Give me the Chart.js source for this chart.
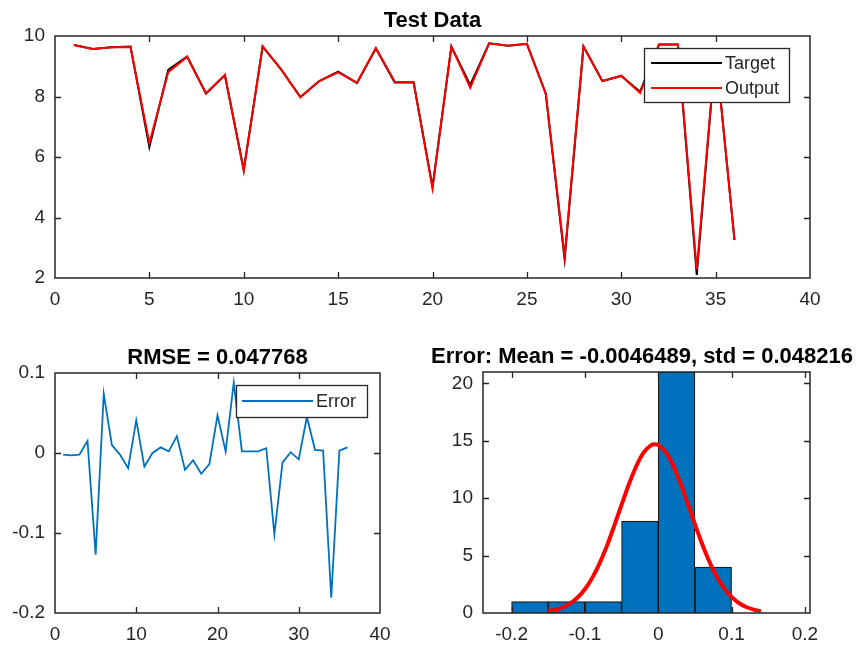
<!DOCTYPE html>
<html>
<head>
<meta charset="utf-8">
<script src="https://cdn.jsdelivr.net/npm/chart.js@4.4.0/dist/chart.umd.min.js"></script>
<style>
  html, body { margin: 0; padding: 0; background: #ffffff; width: 860px; height: 648px; overflow: hidden; }
  canvas { position: absolute; left: 0; top: 0; }
</style>
</head>
<body>
<canvas id="cTest" width="860" height="648" style="width:860px;height:648px"></canvas>
<canvas id="cErr" width="860" height="648" style="width:860px;height:648px"></canvas>
<canvas id="cHist" width="860" height="648" style="width:860px;height:648px"></canvas>
<script>
// ---------------- data ----------------
const sampleIdx = [1,2,3,4,5,6,7,8,9,10,11,12,13,14,15,16,17,18,19,20,21,22,23,24,25,26,27,28,29,30,31,32,33,34,35,36];
const targetVals = [9.70,9.57,9.63,9.65,6.33,8.88,9.32,8.10,8.70,5.58,9.65,8.88,7.98,8.51,8.82,8.44,9.59,8.46,8.46,5.01,9.65,8.38,9.76,9.68,9.74,8.10,2.62,9.65,8.51,8.68,8.16,9.72,9.72,2.10,9.55,3.26];
const outputVals = [9.702,9.573,9.632,9.635,6.457,8.806,9.310,8.102,8.719,5.539,9.667,8.880,7.973,8.508,8.799,8.461,9.599,8.486,8.474,4.963,9.648,8.292,9.758,9.678,9.738,8.094,2.722,9.662,8.509,8.688,8.115,9.716,9.717,2.281,9.547,3.253];
const errorVals = [-0.002,-0.003,-0.002,0.015,-0.127,0.074,0.010,-0.002,-0.019,0.041,-0.017,0.000,0.007,0.002,0.021,-0.021,-0.009,-0.026,-0.014,0.047,0.002,0.088,0.002,0.002,0.002,0.006,-0.102,-0.012,0.001,-0.008,0.045,0.004,0.003,-0.181,0.003,0.007];
const histCenters = [-0.175,-0.125,-0.075,-0.025,0.025,0.075];
const histCounts = [1,1,1,8,21,4];
const fitX = [-0.15,-0.14,-0.13,-0.12,-0.11,-0.10,-0.09,-0.08,-0.07,-0.06,-0.05,-0.04,-0.03,-0.02,-0.01,-0.005,0.00,0.01,0.02,0.03,0.04,0.05,0.06,0.07,0.08,0.09,0.10,0.11,0.12,0.13,0.14];
const fitY = [0.16,0.28,0.50,0.84,1.35,2.07,3.06,4.33,5.85,7.60,9.43,11.22,12.79,13.97,14.61,14.70,14.63,14.04,12.91,11.36,9.58,7.74,5.99,4.44,3.15,2.14,1.40,0.87,0.52,0.30,0.16];
const titleTest = 'Test Data';
const titleErr = 'RMSE = 0.047768';
const titleHist = 'Error: Mean = -0.0046489, std = 0.048216';
const labelTarget = 'Target';
const labelOutput = 'Output';
const labelError = 'Error';

// ---------------- styling helpers ----------------
Chart.defaults.font.family = '"Liberation Sans", Arial, Helvetica, sans-serif';
Chart.defaults.color = '#262626';
const AXIS_COLOR = '#262626';
const TICK_FONT = { size: 19 };
const TITLE_FONT = { size: 22, weight: 'bold', lineHeight: '25px' };

// MATLAB-like box with inward tick marks on all four sides
const boxTicks = {
  id: 'boxTicks',
  beforeDraw(chart, args, o) {
    // let a title be wider than the axes (MATLAB titles may overhang)
    const t = chart.titleBlock;
    if (t && o && o.titleSpan) {
      t.left = o.titleSpan[0];
      t.right = o.titleSpan[1];
      t.width = t.right - t.left;
    }
  },
  afterDatasetsDraw(chart) {
    const { ctx, chartArea: a, scales } = chart;
    const xs = scales.x, ys = scales.y;
    const L = 6;
    ctx.save();
    ctx.strokeStyle = AXIS_COLOR;
    ctx.lineWidth = 1.3;
    ctx.beginPath();
    xs.ticks.forEach(t => {
      const p = Math.round(xs.getPixelForValue(t.value)) + 0.5;
      if (p <= a.left + 1 || p >= a.right - 1) return;
      ctx.moveTo(p, a.bottom); ctx.lineTo(p, a.bottom - L);
      ctx.moveTo(p, a.top); ctx.lineTo(p, a.top + L);
    });
    ys.ticks.forEach(t => {
      const p = Math.round(ys.getPixelForValue(t.value)) + 0.5;
      if (p <= a.top + 1 || p >= a.bottom - 1) return;
      ctx.moveTo(a.left, p); ctx.lineTo(a.left + L, p);
      ctx.moveTo(a.right, p); ctx.lineTo(a.right - L, p);
    });
    ctx.stroke();
    ctx.lineWidth = 1.5;
    ctx.strokeRect(a.left, a.top, a.right - a.left, a.bottom - a.top);
    ctx.restore();
  }
};

// Boxed legend drawn inside the axes (white background, black border)
const boxLegend = {
  id: 'boxLegend',
  afterDraw(chart, args, o) {
    if (!o || !o.box) return;
    const { ctx } = chart;
    const b = o.box;
    ctx.save();
    ctx.fillStyle = '#ffffff';
    ctx.fillRect(b.x, b.y, b.w, b.h);
    ctx.strokeStyle = AXIS_COLOR;
    ctx.lineWidth = 1.3;
    ctx.strokeRect(b.x + 0.5, b.y + 0.5, b.w, b.h);
    ctx.font = '18px "Liberation Sans", Arial, sans-serif';
    ctx.textBaseline = 'middle';
    ctx.textAlign = 'left';
    o.items.forEach((idx, row) => {
      const ds = chart.data.datasets[idx];
      const yy = b.y + o.rowTop + row * o.rowH;
      ctx.strokeStyle = ds.borderColor;
      ctx.lineWidth = ds.borderWidth;
      ctx.beginPath();
      ctx.moveTo(b.x + o.lineStart, yy);
      ctx.lineTo(b.x + o.lineEnd, yy);
      ctx.stroke();
      ctx.fillStyle = '#262626';
      ctx.fillText(ds.label, b.x + o.textX, yy + 1);
    });
    ctx.restore();
  }
};

const fmt1 = v => String(Math.round(v * 10) / 10);

function xAxis(min, max, step, height, fmt) {
  const t = { stepSize: step, font: TICK_FONT, padding: 10, maxRotation: 0, includeBounds: false, color: '#262626' };
  if (fmt) t.callback = fmt;
  return {
    type: 'linear', position: 'bottom', min: min, max: max, offset: false,
    grid: { display: false, drawTicks: false },
    border: { display: false },
    ticks: t,
    afterFit(s) { s.height = height; }
  };
}
function yAxis(min, max, step, fmt) {
  const t = { stepSize: step, font: TICK_FONT, padding: 10, includeBounds: false, color: '#262626' };
  if (fmt) t.callback = fmt;
  return {
    type: 'linear', position: 'left', min: min, max: max,
    grid: { display: false, drawTicks: false },
    border: { display: false },
    ticks: t,
    afterFit(s) { s.width = 55; }
  };
}
function titleOpts(text) {
  return { display: true, text: text, color: '#000000', font: TITLE_FONT, padding: { top: 0, bottom: 3 }, fullSize: false };
}

// ---------------- Chart 1: Test Data ----------------
new Chart(document.getElementById('cTest'), {
  type: 'line',
  data: {
    datasets: [
      { label: labelTarget, data: sampleIdx.map((x, i) => ({ x: x, y: targetVals[i] })),
        borderColor: '#000000', borderWidth: 2, pointRadius: 0, tension: 0, order: 2 },
      { label: labelOutput, data: sampleIdx.map((x, i) => ({ x: x, y: outputVals[i] })),
        borderColor: '#ff0000', borderWidth: 2, pointRadius: 0, tension: 0, order: 1 }
    ]
  },
  options: {
    responsive: false, animation: false, events: [],
    layout: { padding: { left: 0, right: 50, top: 8, bottom: 330 } },
    scales: { x: xAxis(0, 40, 5, 40), y: yAxis(2, 10, 2) },
    plugins: {
      legend: { display: false }, tooltip: { enabled: false },
      title: titleOpts(titleTest),
      boxLegend: { box: { x: 644, y: 48, w: 145, h: 54 }, items: [0, 1], rowTop: 15, rowH: 25, lineStart: 7, lineEnd: 78, textX: 81 }
    }
  },
  plugins: [boxTicks, boxLegend]
});

// ---------------- Chart 2: Error / RMSE ----------------
new Chart(document.getElementById('cErr'), {
  type: 'line',
  data: {
    datasets: [
      { label: labelError, data: sampleIdx.map((x, i) => ({ x: x, y: errorVals[i] })),
        borderColor: '#0072bd', borderWidth: 1.8, pointRadius: 0, tension: 0 }
    ]
  },
  options: {
    responsive: false, animation: false, events: [],
    layout: { padding: { left: 0, right: 480, top: 345, bottom: 0 } },
    scales: {
      x: xAxis(0, 40, 10, 35),
      y: yAxis(-0.2, 0.1, 0.1, fmt1)
    },
    plugins: {
      legend: { display: false }, tooltip: { enabled: false },
      title: titleOpts(titleErr),
      boxLegend: { box: { x: 236, y: 385, w: 131, h: 32 }, items: [0], rowTop: 16, rowH: 0, lineStart: 6, lineEnd: 77, textX: 80 }
    }
  },
  plugins: [boxTicks, boxLegend]
});

// ---------------- Chart 3: Error histogram ----------------
new Chart(document.getElementById('cHist'), {
  type: 'bar',
  data: {
    datasets: [
      { type: 'line', label: 'fit', data: fitX.map((x, i) => ({ x: x, y: fitY[i] })),
        borderColor: '#ff0000', borderWidth: 4, pointRadius: 0, cubicInterpolationMode: 'monotone', order: 0 },
      { type: 'bar', label: 'hist', data: histCenters.map((x, i) => ({ x: x, y: histCounts[i] })),
        backgroundColor: '#0072bd', borderColor: '#1a1a1a', borderWidth: 1.2,
        barPercentage: 1, categoryPercentage: 1, order: 1 }
    ]
  },
  options: {
    responsive: false, animation: false, events: [],
    layout: { padding: { left: 428, right: 50, top: 344, bottom: 0 } },
    scales: {
      x: xAxis(-0.239, 0.207, 0.1, 35, fmt1),
      y: yAxis(0, 21, 5)
    },
    plugins: {
      legend: { display: false }, tooltip: { enabled: false },
      title: titleOpts(titleHist),
      boxTicks: { titleSpan: [418, 866] }
    }
  },
  plugins: [boxTicks]
});
</script>
</body>
</html>
